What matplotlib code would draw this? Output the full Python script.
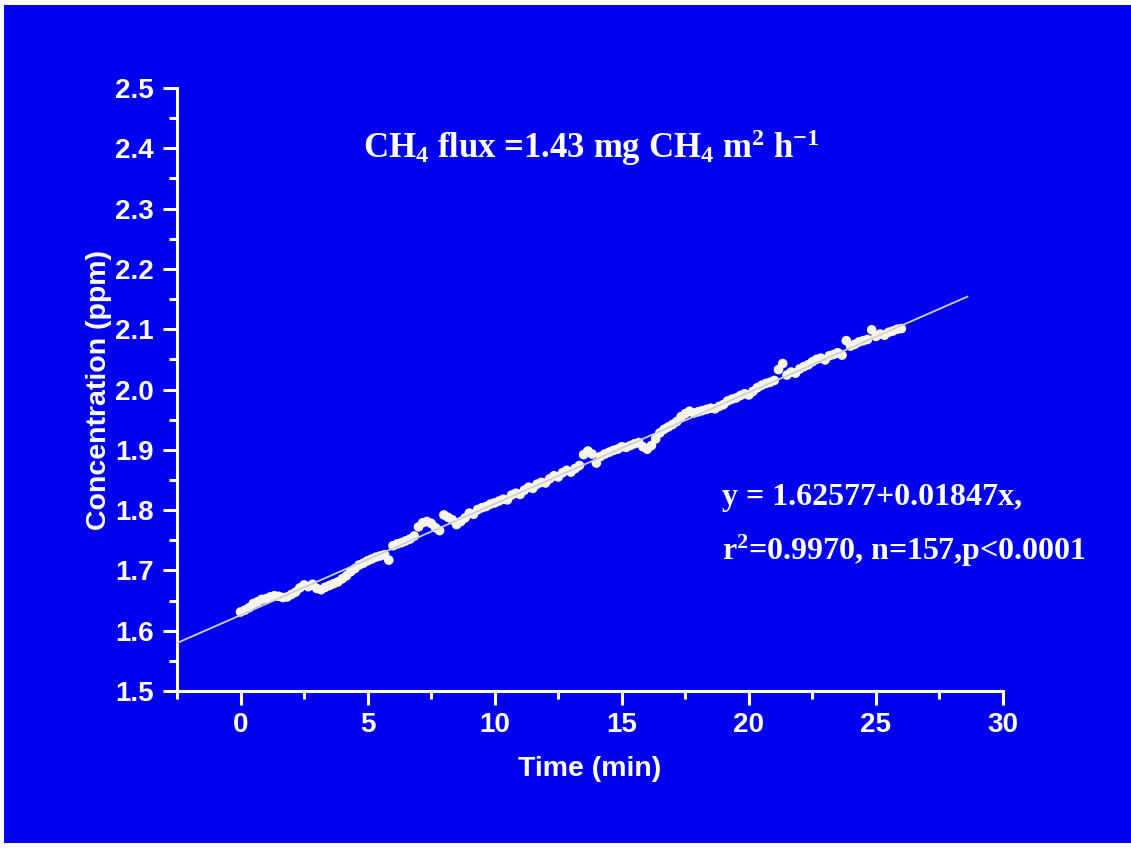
'''
Chamber CH4 concentration vs. time with the linear flux fit.
'''
import numpy as np
import matplotlib
matplotlib.use('Agg')
import matplotlib.pyplot as plt
from matplotlib.patches import Rectangle
from matplotlib.ticker import MultipleLocator, AutoMinorLocator

BLUE = '#0000F0'
POINT_COLOR = '#F6F6EC'
FIT_COLOR = '#CFCFCF'

# sampling interval of the analyser (s) and measured concentrations (ppm)
SAMPLE_INTERVAL_S = 10.0
CONC_PPM = [
    1.631, 1.634, 1.638, 1.645, 1.648, 1.652, 1.653, 1.656, 1.658, 1.657,
    1.655, 1.656, 1.660, 1.664, 1.671, 1.676, 1.673, 1.677, 1.670, 1.668,
    1.672, 1.675, 1.678, 1.681, 1.686, 1.691, 1.698, 1.703, 1.709, 1.712,
    1.716, 1.719, 1.722, 1.724, 1.726, 1.717, 1.741, 1.744, 1.746, 1.749,
    1.752, 1.757, 1.772, 1.779, 1.781, 1.778, 1.771, 1.766, 1.792, 1.788,
    1.784, 1.776, 1.781, 1.787, 1.795, 1.793, 1.801, 1.804, 1.806, 1.810,
    1.812, 1.815, 1.818, 1.817, 1.825, 1.828, 1.826, 1.833, 1.838, 1.836,
    1.843, 1.846, 1.845, 1.852, 1.857, 1.855, 1.862, 1.866, 1.863, 1.869,
    1.874, 1.892, 1.898, 1.893, 1.878, 1.889, 1.893, 1.896, 1.899, 1.901,
    1.905, 1.904, 1.907, 1.910, 1.912, 1.905, 1.901, 1.907, 1.918, 1.928,
    1.934, 1.938, 1.942, 1.947, 1.955, 1.960, 1.964, 1.961, 1.963, 1.965,
    1.967, 1.969, 1.968, 1.972, 1.975, 1.981, 1.984, 1.986, 1.990, 1.993,
    1.991, 1.997, 2.003, 2.007, 2.010, 2.012, 2.015, 2.033, 2.043, 2.024,
    2.029, 2.027, 2.034, 2.038, 2.041, 2.046, 2.050, 2.052, 2.049, 2.056,
    2.058, 2.061, 2.057, 2.081, 2.072, 2.075, 2.079, 2.081, 2.083, 2.099,
    2.088, 2.092, 2.090, 2.095, 2.097, 2.100, 2.101,
]

# regression reported on the chart
FIT_INTERCEPT = 1.62577
FIT_SLOPE = 0.01847
FIT_RANGE = [-2.5, 28.6]

X_LIM = [-2.5, 30]
Y_LIM = [1.5, 2.5]

W_PX, H_PX = 1131, 857


def fig_xy(x_px, y_px):
    '''Pixel position (from top left) to figure fraction.'''
    return x_px / W_PX, 1.0 - y_px / H_PX


def main():
    plt.rcParams['mathtext.fontset'] = 'custom'
    plt.rcParams['mathtext.rm'] = 'Liberation Serif:bold'
    plt.rcParams['mathtext.it'] = 'Liberation Serif:italic:bold'
    plt.rcParams['mathtext.bf'] = 'Liberation Serif:bold'

    fig = plt.figure(figsize=(W_PX / 100, H_PX / 100), dpi=100)
    fig.patch.set_facecolor('white')
    fig.patches.append(Rectangle((4 / W_PX, 14 / H_PX), 1 - 4 / W_PX, 1 - 19 / H_PX,
                                 transform=fig.transFigure, facecolor=BLUE,
                                 edgecolor='none', zorder=-10))

    left, right = 177 / W_PX, 1003 / W_PX
    bottom, top = 1 - 691 / H_PX, 1 - 88 / H_PX
    ax = fig.add_axes([left, bottom, right - left, top - bottom])
    ax.set_facecolor(BLUE)

    time_min = np.arange(len(CONC_PPM)) * SAMPLE_INTERVAL_S / 60.0
    conc = np.array(CONC_PPM)
    ax.scatter(time_min, conc, s=48, color=POINT_COLOR, edgecolors='none', zorder=2)

    x_fit = np.array(FIT_RANGE)
    ax.plot(x_fit, FIT_INTERCEPT + FIT_SLOPE * x_fit, color=FIT_COLOR,
            linewidth=1.3, zorder=3)

    ax.set_xlim(X_LIM)
    ax.set_ylim(Y_LIM)
    ax.xaxis.set_major_locator(MultipleLocator(5))
    ax.xaxis.set_minor_locator(AutoMinorLocator(2))
    ax.yaxis.set_major_locator(MultipleLocator(0.1))
    ax.yaxis.set_minor_locator(AutoMinorLocator(2))

    for side in ['top', 'right']:
        ax.spines[side].set_visible(False)
    for side in ['left', 'bottom']:
        ax.spines[side].set_color('white')
        ax.spines[side].set_linewidth(2.2)

    ax.tick_params(which='both', direction='out', colors='white', width=2.2)
    ax.tick_params(which='major', length=10)
    ax.tick_params(which='minor', length=6)
    ax.tick_params(axis='y', which='major', pad=7)
    ax.tick_params(axis='x', which='major', pad=5)
    ax.yaxis.set_major_formatter(plt.FuncFormatter(lambda v, p: f'{v:.1f}'))
    for lab in ax.get_xticklabels() + ax.get_yticklabels():
        lab.set_fontfamily('Liberation Sans')
        lab.set_fontweight('bold')
        lab.set_fontsize(20)

    ax.set_xlabel('Time (min)', fontfamily='Liberation Sans', fontweight='bold',
                  fontsize=20.5, color='white')
    ax.set_ylabel('Concentration (ppm)', fontfamily='Liberation Sans', fontweight='bold',
                  fontsize=20.5, color='white')
    ax.xaxis.set_label_coords(0.5, -0.107)
    ax.yaxis.set_label_coords(-0.079, 0.5)

    serif = dict(fontfamily='Liberation Serif', fontweight='bold', color='white')
    fig.text(*fig_xy(363, 158), r'CH$_4$ flux =1.43 mg CH$_4$ m$^2$ h$^{-1}$',
             fontsize=25, ha='left', va='baseline', **serif)
    fig.text(*fig_xy(722, 505), f'y = {FIT_INTERCEPT}+{FIT_SLOPE}x,',
             fontsize=23, ha='left', va='baseline', **serif)
    fig.text(*fig_xy(722, 560), r'r$^2$=0.9970, n=157,p<0.0001',
             fontsize=23, ha='left', va='baseline', **serif)

    fig.savefig('out.png', dpi=100, facecolor=fig.get_facecolor())
    plt.close(fig)


if __name__ == '__main__':
    main()
